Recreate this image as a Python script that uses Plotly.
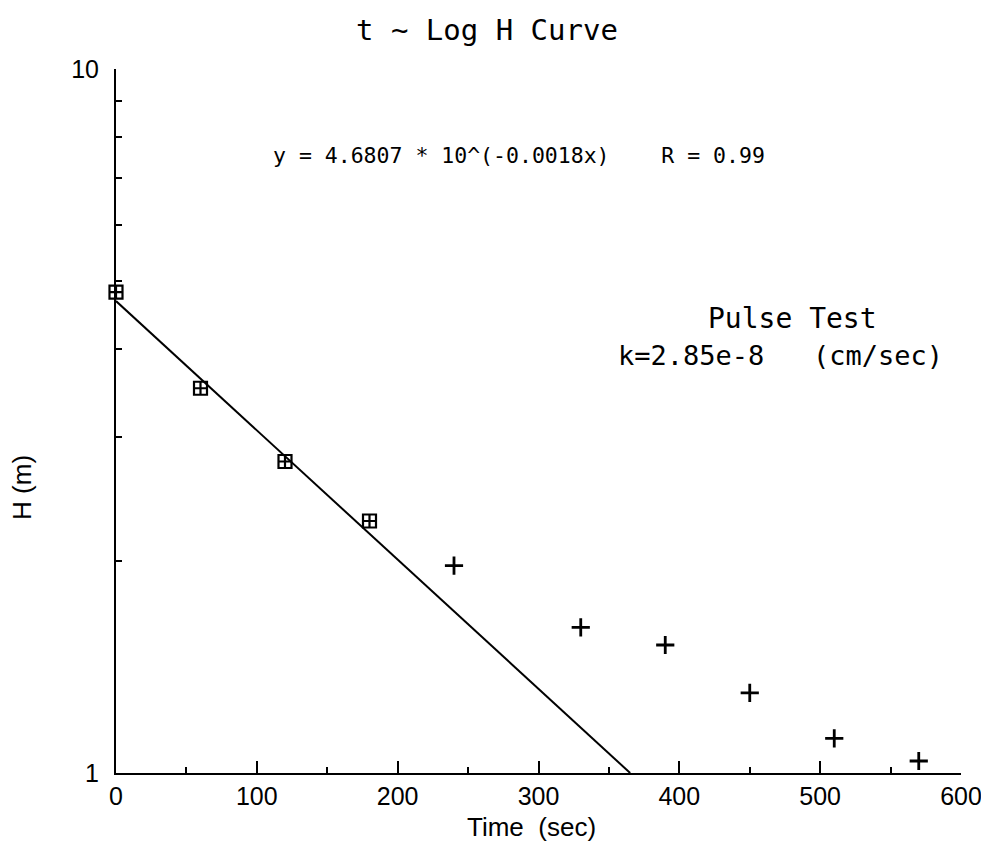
import numpy as np
import plotly.graph_objects as go

# ---- data ----
fit_time = [0, 60, 120, 180]
fit_h = [4.82, 3.52, 2.77, 2.28]
rest_time = [240, 330, 390, 450, 510, 570]
rest_h = [1.97, 1.61, 1.52, 1.30, 1.12, 1.04]

fit_a = 4.6807       # intercept
fit_b = 0.001836     # decay rate (shown rounded as 0.0018)

x_ticks = [0, 100, 200, 300, 400, 500, 600]
x_minor = [50, 150, 250, 350, 450, 550]
y_ticks = [1, 10]
y_minor = [2, 3, 4, 5, 6, 7, 8, 9]

title_text = "t ~ Log H Curve"
eq_text = "y = 4.6807 * 10^(-0.0018x)    R = 0.99"
test_text = "Pulse Test"
k_text = "k=2.85e-8   (cm/sec)"
x_title = "Time  (sec)"
y_title = "H (m)"

MONO = "DejaVu Sans Mono, Liberation Mono, monospace"
SANS = "Liberation Sans, Arial, sans-serif"

# fitted line from x=0 until it reaches H=1
x_end = np.log10(fit_a) / fit_b
line_x = [0, x_end]
line_y = [fit_a * 10 ** (-fit_b * v) for v in line_x]

fig = go.Figure()
fig.add_trace(go.Scatter(x=line_x, y=line_y, mode="lines",
                         line=dict(color="black", width=2), cliponaxis=False,
                         showlegend=False))
fig.add_trace(go.Scatter(x=fit_time, y=fit_h, mode="markers",
                         marker=dict(symbol="square-cross-open", size=13,
                                     color="black", line=dict(color="black", width=2.2)),
                         cliponaxis=False, showlegend=False))
fig.add_trace(go.Scatter(x=rest_time, y=rest_h, mode="markers",
                         marker=dict(symbol="cross-thin", size=13,
                                     color="black", line=dict(color="black", width=2.8)),
                         cliponaxis=False, showlegend=False))

fig.update_layout(
    width=981, height=845,
    margin=dict(l=116, r=20, t=69, b=72),
    paper_bgcolor="white", plot_bgcolor="white",
    font=dict(family=MONO, color="black", size=20),
    showlegend=False,
    xaxis=dict(range=[0, 600], tickmode="array", tickvals=x_ticks,
               ticktext=[str(v) for v in x_ticks], automargin=False,
               ticklabeloverflow="allow",
               showgrid=False, zeroline=False, showline=True, linecolor="black",
               linewidth=2, ticks="inside", ticklen=12, tickwidth=2, tickcolor="black",
               ticklabelstandoff=0,
               tickfont=dict(family=SANS, size=25),
               minor=dict(tickmode="array", tickvals=x_minor, ticks="inside",
                          ticklen=6, tickwidth=2, tickcolor="black", showgrid=False)),
    yaxis=dict(type="log", range=[0, 1], tickmode="array", tickvals=y_ticks,
               ticktext=[str(v) for v in y_ticks], automargin=False,
               ticklabeloverflow="allow",
               showgrid=False, zeroline=False, showline=True, linecolor="black",
               linewidth=2, ticks="inside", ticklen=12, tickwidth=2, tickcolor="black",
               ticklabelstandoff=10,
               tickfont=dict(family=SANS, size=25),
               minor=dict(tickmode="array", tickvals=y_minor, ticks="inside",
                          ticklen=6, tickwidth=2, tickcolor="black", showgrid=False)),
)

fig.add_annotation(text=title_text, xref="paper", yref="paper", x=0.439, y=1.0,
                   yshift=39, xanchor="center", yanchor="middle", showarrow=False,
                   font=dict(family=MONO, size=29))
fig.add_annotation(text=eq_text, xref="paper", yref="paper", x=0.477, y=1.0,
                   yshift=-86, xanchor="center", yanchor="middle", showarrow=False,
                   font=dict(family=MONO, size=21.5))
fig.add_annotation(text=test_text, xref="paper", yref="paper", x=0.8, y=1.0,
                   yshift=-249, xanchor="center", yanchor="middle", showarrow=False,
                   font=dict(family=MONO, size=28))
fig.add_annotation(text=k_text, xref="paper", yref="paper", x=0.981, y=1.0,
                   yshift=-286, xanchor="right", yanchor="middle", showarrow=False,
                   font=dict(family=MONO, size=27))
fig.add_annotation(text=x_title, xref="paper", yref="paper", x=0.492, y=0,
                   yshift=-54, xanchor="center", yanchor="middle", showarrow=False,
                   font=dict(family=SANS, size=26))
fig.add_annotation(text=y_title, xref="paper", yref="paper", x=0, y=0.405,
                   xshift=-94, textangle=-90, xanchor="center", yanchor="middle",
                   showarrow=False, font=dict(family=SANS, size=26))

fig.write_html("out.html")
